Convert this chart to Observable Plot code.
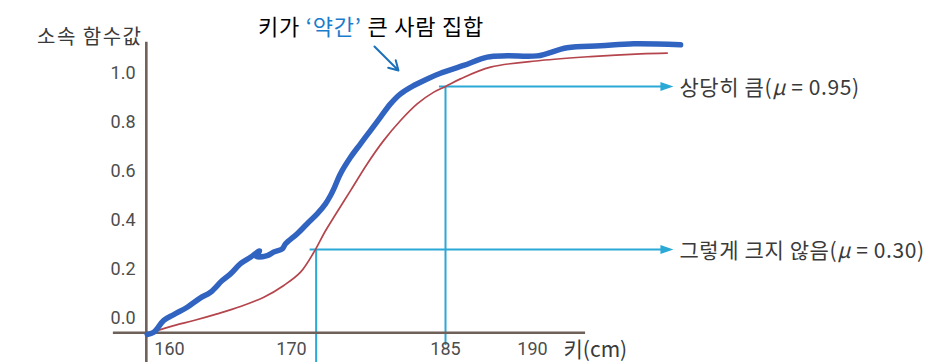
<!DOCTYPE html>
<html><head><meta charset="utf-8">
<script src="https://cdn.jsdelivr.net/npm/d3@7"></script>
<script src="https://cdn.jsdelivr.net/npm/@observablehq/plot@0.6"></script>
<style>html,body{margin:0;padding:0;background:#fff} svg{display:block}</style>
</head><body><div id="chart"></div>
<script>
// ---- data ----
const titleText = "키가 ‘약간’ 큰 사람 집합";
const titleHighlight = "‘약간’";
const yLabel = "소속 함수값";
const xLabel = "키(cm)";
const xTicks = [160, 170, 185, 190];
const yTicks = [0, 0.2, 0.4, 0.6, 0.8, 1.0];

// hand-drawn "slightly tall" set (blue)
const blueX  = [158.17,158.71,159.53,160.35,161.45,162.54,163.36,164.32,165.0,165.82,166.64,167.38,167.13,168.01,168.55,169.24,169.51,170.56,171.53,172.5,173.31,173.8,174.12,174.77,175.75,176.72,177.69,178.67,179.64,180.62,181.91,183.22,184.51,186.05,187.4,188.55,190.27,191.99,193.91,195.82,198.51];
const blueMu = [-0.065,-0.056,-0.008,0.016,0.046,0.084,0.107,0.155,0.182,0.224,0.25,0.276,0.253,0.257,0.271,0.284,0.305,0.346,0.387,0.427,0.468,0.502,0.529,0.591,0.658,0.713,0.767,0.822,0.876,0.917,0.951,0.978,1.001,1.033,1.067,1.072,1.072,1.105,1.113,1.121,1.117];

// membership function "tall" (red)
const redX  = [158.85,160.35,161.99,163.91,165.82,167.73,169.37,170.88,172.34,173.15,174.12,175.75,177.37,178.99,180.62,182.24,183.86,185.0,185.86,187.59,190.46,193.33,196.21,197.74];
const redMu = [-0.052,-0.029,-0.008,0.019,0.049,0.087,0.135,0.189,0.282,0.346,0.413,0.522,0.631,0.727,0.808,0.876,0.924,0.947,0.978,1.026,1.053,1.069,1.08,1.083];

// marked heights and their membership
const markHeights = [172.4, 185];
const markMu      = [0.282, 0.947];
const markLabels  = ["그렇게 크지 않음(μ = 0.30)", "상당히 큼(μ = 0.95)"];
const markBottoms = [-0.18, -0.11];

// ---- build ----
const blue = blueX.map((x, i) => ({x, mu: blueMu[i]}));
const red = redX.map((x, i) => ({x, mu: redMu[i]}));
const marks = markHeights.map((h, i) => ({h, mu: markMu[i], label: markLabels[i], bottom: markBottoms[i]}));

const arrowEnd = 198.1;
const axisColor = "#6e6159";
const cyan = "#2aa8d6";
const krFont = "'Noto Sans CJK KR', 'Noto Sans', sans-serif";

const arrowHead = {
  draw(ctx) {
    ctx.moveTo(0, 0);
    ctx.lineTo(-13, -4.5);
    ctx.lineTo(-13, 4.5);
    ctx.closePath();
  }
};

const chart = Plot.plot({
  width: 942,
  height: 362,
  marginLeft: 146,
  marginRight: 357,
  marginTop: 42,
  marginBottom: 30,
  style: {background: "#fff", fontFamily: "Roboto, sans-serif", fontSize: "18px", color: "#4d4d4d", overflow: "visible"},
  x: {type: "linear", domain: [160, 170, 185, 190], range: [169, 291, 445, 532]},
  y: {domain: [0, 1], range: [318, 73]},
  marks: [
    // cyan guide lines
    Plot.ruleX(marks, {x: "h", y1: "mu", y2: "bottom", stroke: cyan, strokeWidth: 2}),
    Plot.ruleY(marks, {y: "mu", x1: "h", x2: arrowEnd, dx: -6, stroke: cyan, strokeWidth: 2}),
    Plot.dot(marks, {x: arrowEnd, y: "mu", symbol: arrowHead, fill: cyan, stroke: "none"}),
    // axis lines
    Plot.ruleY([-0.058], {x1: 155.4, x2: 193.05, stroke: axisColor, strokeWidth: 2.6}),
    Plot.ruleX([158.1], {y1: -0.18, y2: 1.128, stroke: axisColor, strokeWidth: 2.6}),
    // axes
    Plot.axisX(xTicks, {anchor: "bottom", tickSize: 0, tickPadding: 10, tickFormat: d => String(d), label: null, fontSize: 18, fill: "#4d4d4d"}),
    Plot.axisY(yTicks, {anchor: "left", tickSize: 0, tickPadding: 11, tickFormat: ".1f", label: null, fontSize: 18, fill: "#4d4d4d"}),
    // curves
    Plot.line(red, {x: "x", y: "mu", stroke: "#b4454c", strokeWidth: 1.7, curve: "catmull-rom"}),
    Plot.line(blue, {x: "x", y: "mu", stroke: "#3163c1", strokeWidth: 5.5, strokeLinecap: "round", strokeLinejoin: "round", curve: "catmull-rom"}),
    // small pointer arrow
    Plot.arrow([0], {x1: 178.08, y1: 1.11, x2: 180.42, y2: 1.012, stroke: "#1c70ba", strokeWidth: 2, headLength: 8}),
    // labels
    Plot.text(marks, {x: arrowEnd, y: "mu", text: "label", dx: 6, dy: 2, textAnchor: "start", fontSize: 21, fill: "#3a3a3a", fontFamily: krFont}),
    Plot.text([titleText], {frameAnchor: "top", dx: 5, dy: -15, lineAnchor: "middle", fontSize: 22, fill: "#000", fontFamily: krFont}),
    Plot.text([yLabel], {frameAnchor: "top-left", textAnchor: "end", lineAnchor: "middle", dx: -4, dy: -5, fontSize: 20, fill: "#3a3a3a", fontFamily: krFont}),
    Plot.text([xLabel], {frameAnchor: "bottom-right", textAnchor: "start", lineAnchor: "middle", dx: -22, dy: 18, fontSize: 21, fill: "#3a3a3a", fontFamily: krFont})
  ]
});

// rich text: coloured title word, italic μ, letter spacing
for (const t of chart.querySelectorAll("text")) {
  const s = t.textContent;
  if (s === titleText) {
    t.setAttribute("letter-spacing", "0.8");
    const k = s.indexOf(titleHighlight);
    const parts = [[s.slice(0, k), null], [titleHighlight, "#1a7ccc"], [s.slice(k + titleHighlight.length), null]];
    t.textContent = "";
    for (const [p, c] of parts) {
      const ts = document.createElementNS("http://www.w3.org/2000/svg", "tspan");
      ts.textContent = p;
      if (c) ts.setAttribute("fill", c);
      t.appendChild(ts);
    }
  } else if (s === yLabel) {
    t.setAttribute("letter-spacing", "1.5");
  } else if (s.includes("μ")) {
    t.setAttribute("letter-spacing", "0.6");
    const k = s.indexOf("μ");
    const parts = [[s.slice(0, k), false], ["μ", true], [s.slice(k + 1), false]];
    t.textContent = "";
    for (const [p, it] of parts) {
      const ts = document.createElementNS("http://www.w3.org/2000/svg", "tspan");
      ts.textContent = p;
      if (it) ts.setAttribute("font-style", "italic");
      t.appendChild(ts);
    }
  }
}

document.getElementById("chart").appendChild(chart);
</script>
</body></html>
